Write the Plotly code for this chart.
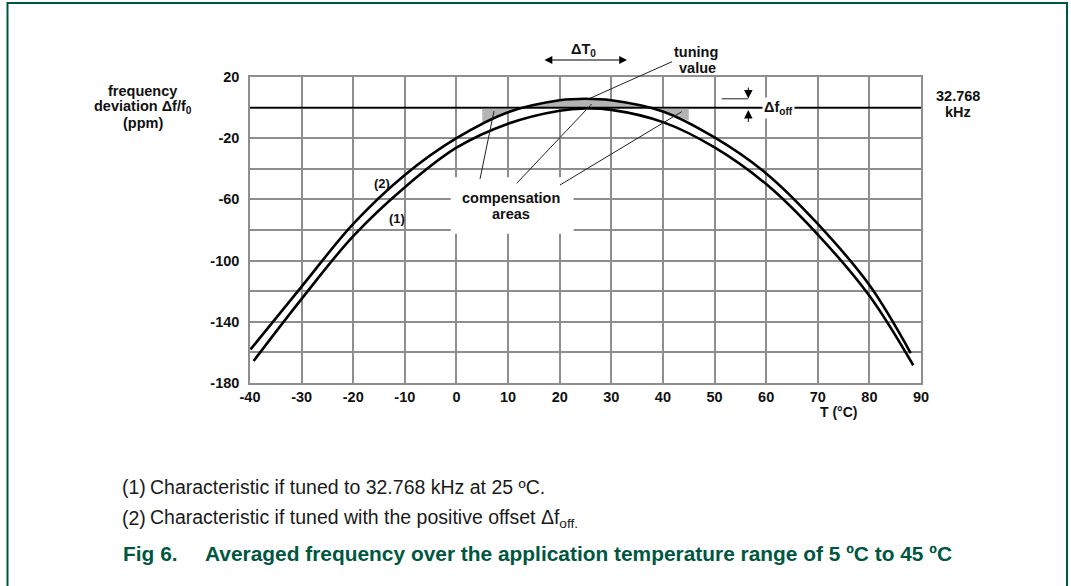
import plotly.graph_objects as go

# ---- data ----
temps_1 = [-39.3, -30, -20, -10, 0, 10, 20, 25, 30, 40, 50, 60, 70, 80, 88.5]
dev_1 = [-165.6, -125, -84, -52, -26.2, -10.5, -2, -0.6, -1.5, -9.5, -26, -50, -83, -123, -168.4]
temps_2 = [-39.9, -30, -20, -10, 0, 10, 20, 25, 30, 40, 50, 60, 70, 80, 88]
dev_2 = [-158, -117, -76, -44, -20, -3, 4.8, 5.8, 4.8, -2.5, -19.5, -43, -76, -116, -160.4]
# curve (2) inside the compensation window, 5 degC steps
comp_temps = [5, 10, 15, 20, 25, 30, 35, 40, 45]
comp_dev = [-9.5, -3, 2, 4.8, 5.8, 4.8, 2.2, -2.5, -8.5]
x_ticks = list(range(-40, 91, 10))
y_ticks = [20, -20, -60, -100, -140, -180]
y_minor = [0, -40, -80, -120, -160]

W, H = 1071, 586
L, R, T, B = 250, 150, 77, 203
PW, PH = W - L - R, H - T - B


def px(x):
    return (x - L) / PW


def py(y):
    return (H - B - y) / PH


FONT = "Liberation Sans, Arial, sans-serif"
GREEN = "#00573f"
GRID = "#8e8e8e"
INK = "#111111"

fig = go.Figure()

# compensation (shaded) areas between curve (2) and the 0 line
fig.add_trace(go.Scatter(x=[comp_temps[0], comp_temps[-1]], y=[0, 0], mode="lines",
                         line=dict(width=0, color="rgba(0,0,0,0)"), showlegend=False, hoverinfo="skip"))
fig.add_trace(go.Scatter(x=comp_temps, y=comp_dev, mode="lines",
                         line=dict(width=0, shape="spline", color="rgba(0,0,0,0)"),
                         fill="tonexty", fillcolor="#b4b4b4", showlegend=False, hoverinfo="skip"))
# 32.768 kHz reference line
fig.add_trace(go.Scatter(x=[-40, 90], y=[0, 0], mode="lines", line=dict(color="black", width=1.6),
                         showlegend=False, hoverinfo="skip"))
# curves
fig.add_trace(go.Scatter(x=temps_1, y=dev_1, mode="lines", name="(1)",
                         line=dict(color="black", width=2.6, shape="spline"), showlegend=False))
fig.add_trace(go.Scatter(x=temps_2, y=dev_2, mode="lines", name="(2)",
                         line=dict(color="black", width=2.6, shape="spline"), showlegend=False))

tickfont = dict(family=FONT, size=14.5, color=INK, weight="bold")
fig.update_xaxes(range=[-40, 90], tickvals=x_ticks, ticktext=[str(v) for v in x_ticks],
                 showgrid=True, gridcolor=GRID, gridwidth=1.5,
                 zeroline=False, showline=True, linecolor=GRID, linewidth=1.5, mirror=True,
                 ticks="", tickfont=tickfont)
fig.update_yaxes(range=[-180, 20], tickvals=y_ticks, ticktext=[str(v) for v in y_ticks],
                 showgrid=True, gridcolor=GRID, gridwidth=1.5,
                 minor=dict(tickvals=y_minor, showgrid=True, gridcolor=GRID, gridwidth=1.5),
                 zeroline=False, showline=True, linecolor=GRID, linewidth=1.5, mirror=True,
                 ticks="outside", ticklen=6, tickcolor="rgba(0,0,0,0)", tickfont=tickfont)

shapes = []
# white box behind "compensation areas"
shapes.append(dict(type="rect", xref="x", yref="y", x0=-1.1, x1=22.7, y0=-82.5, y1=-45.6,
                   fillcolor="white", line=dict(width=0), layer="above"))


def pline(x0, y0, x1, y1, width=1):
    shapes.append(dict(type="line", xref="paper", yref="paper", x0=px(x0), y0=py(y0), x1=px(x1), y1=py(y1),
                       line=dict(color="#222", width=width), layer="above"))


# leader lines (pixel positions in the picture)
pline(480, 179, 494, 111)
pline(516.7, 183.3, 591.7, 104)
pline(560, 185, 681.7, 111.7)
pline(672, 61.7, 590, 98.3)
# dimension line for delta f_off
pline(721.7, 98.8, 748.3, 98.8)
# figure frame
shapes.append(dict(type="rect", xref="paper", yref="paper", x0=px(7.5), x1=px(1067), y0=py(600), y1=py(3),
                   line=dict(color=GREEN, width=2), fillcolor="rgba(0,0,0,0)", layer="above"))
fig.update_layout(shapes=shapes)

ann = []
bold = dict(family=FONT, size=14.5, color=INK, weight="bold")


def add_px(text, x, y, font=bold, xanchor="center", **kw):
    ann.append(dict(text=text, xref="paper", yref="paper", x=px(x), y=py(y), showarrow=False,
                    xanchor=xanchor, yanchor="middle", font=font, **kw))


def arrow_px(x_tip, y_tip, x_tail, y_tail, both=False, size=1.2, width=1.2):
    ann.append(dict(text="", xref="paper", yref="paper", x=px(x_tip), y=py(y_tip),
                    ax=x_tail - x_tip, ay=y_tail - y_tip, showarrow=True, arrowhead=2,
                    arrowside="end+start" if both else "end", arrowsize=size, arrowwidth=width,
                    arrowcolor="black"))


add_px("frequency", 142.5, 90.7)
add_px("deviation Δf/f<sub>0</sub>", 142.5, 107.3)
add_px("(ppm)", 142.5, 123.3)
add_px("32.768", 958, 96)
add_px("kHz", 958, 112)
add_px("T (°C)", 838, 412, font=dict(family=FONT, size=14, color=INK, weight="bold"))
add_px("ΔT<sub>0</sub>", 583, 50)
add_px("tuning", 696, 52)
add_px("value", 697, 68)
add_px("compensation", 511, 198.3)
add_px("areas", 511, 213.5)
add_px("(2)", 381.5, 183.3, font=dict(family=FONT, size=13, color=INK, weight="bold"))
add_px("(1)", 396.5, 218.3, font=dict(family=FONT, size=13, color=INK, weight="bold"))
add_px("Δf<sub>off</sub>", 778, 108.3, bgcolor="white", borderpad=1)

# double arrow delta T0
arrow_px(627, 60, 543, 60, both=True, size=1.3, width=1.2)
# delta f_off arrows
arrow_px(748.3, 98.5, 748.3, 86.0, size=1.7, width=1)
arrow_px(748.3, 110, 748.3, 123.5, size=1.7, width=1)

cap = dict(family=FONT, size=19.5, color="#1a1a1a")
add_px("(1)", 120, 487, font=cap, xanchor="left")
add_px("Characteristic if tuned to 32.768 kHz at 25 ºC.", 148, 487, font=cap, xanchor="left")
add_px("(2)", 120, 518, font=cap, xanchor="left")
add_px("Characteristic if tuned with the positive offset Δf<sub>off.</sub>", 148, 518, font=cap,
       xanchor="left")
figfont = dict(family=FONT, size=20.9, color=GREEN, weight="bold")
add_px("Fig 6.", 121, 553, font=figfont, xanchor="left")
add_px("Averaged frequency over the application temperature range of 5 ºC to 45 ºC", 203, 553,
       font=figfont, xanchor="left")

fig.update_layout(annotations=ann, width=W, height=H,
                  margin=dict(l=L, r=R, t=T, b=B, pad=0),
                  paper_bgcolor="white", plot_bgcolor="white", showlegend=False)

fig.write_html("out.html", config={"displayModeBar": False},
               post_script="document.body.style.margin='0px';")
